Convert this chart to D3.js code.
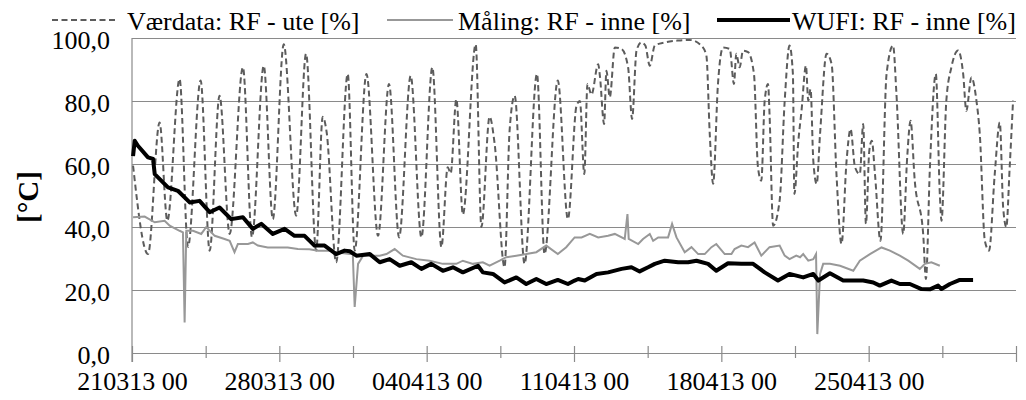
<!DOCTYPE html>
<html>
<head>
<meta charset="utf-8">
<script src="https://d3js.org/d3.v7.min.js"></script>
<style>
body { margin:0; background:#fff; }
svg text { font-family: "Liberation Serif", "Times New Roman", serif; fill:#000; }
</style>
</head>
<body>
<div class="container"></div>
<script>
////////////////////////////////////////////////////////////////
// DATA (dager etter 21.03.2013 00:00, RF i %)
////////////////////////////////////////////////////////////////
var startDato = new Date(2013, 2, 21, 0, 0);
var sluttDato = new Date(2013, 4, 2, 0, 0);

var serieNavn = ["Værdata: RF - ute [%]", "Måling: RF - inne [%]", "WUFI: RF - inne [%]"];
var yTicks = [0, 20, 40, 60, 80, 100];
var xTickSteg = 3.5; // dager mellom tick

var vaerDag = [0.05,0.76,1.31,1.68,2.26,2.66,3.26,3.69,4.16,4.64,5.27,5.70,6.26,6.69,7.21,7.80,8.27,8.75,9.06,9.25,9.70,
  10.25,10.58,11.14,11.69,12.21,12.69,13.24,13.75,14.27,14.70,15.00,15.14,15.41,15.72,16.33,16.60,16.99,17.23,17.70,17.94,
  18.18,18.65,19.24,19.60,20.23,20.71,21.12,21.28,21.49,21.64,21.83,22.15,22.23,22.43,22.54,22.70,22.94,23.26,23.57,23.76,
  23.97,24.20,24.39,24.60,24.84,25.31,25.95,26.48,27.05,27.29,27.45,27.61,27.84,28.08,28.40,28.60,28.71,28.87,29.03,29.27,
  29.55,29.74,29.90,30.06,30.22,30.29,30.46,30.77,31.01,31.24,31.40,31.47,31.66,31.81,32.02,32.13,32.24,32.37,32.53,32.69,
  33.00,33.24,33.47,33.71,33.95,34.14,34.35,34.58,34.74,34.87,35.03,35.15,35.30,35.56,35.85,36.16,36.32,36.64,36.83,36.99,
  37.19,37.59,37.72,37.91,38.19,38.38,38.46,38.69,38.93,39.25,39.49,39.64,39.88,40.12,40.28,40.52,40.72,40.99,41.23,41.39,
  41.54,41.70,41.86];
var vaerRF = [59.5,31.4,73.2,42,87,33.7,86.5,32.5,81.7,37.8,90.7,36.8,91.2,42.5,98,43.6,95,32.5,75,70,28.8,
  88.6,32.5,88.6,37.2,85.4,36.7,88,36.7,90.7,33.6,59,57,80.6,44,98,40,75,66.4,27.2,70.6,
  81.7,28.3,88.6,31.4,86.5,42.5,78.5,80,56.8,85.4,82,91.7,88,72.7,89.6,81.2,97,96.5,90.7,74.3,
  96,98.6,97.6,91.2,97.6,98.6,99.2,99.4,97.6,94.4,69.5,53.7,85.4,97,96.5,85.4,95,90.7,96,95.5,
  88.6,59,54.7,80.1,85.4,75.9,40.4,48.4,80,97.6,88.6,50.5,67.4,76.9,91.2,80.1,83.8,61,53.7,69.5,
  95,91.7,56.8,34.6,61,71.1,59,56.8,72.7,41,64.2,67.4,56.8,35.6,88.6,97.6,82.2,37.8,62.1,73.7,
  54.7,37.8,23.5,59,88.6,50.5,42,80.1,90.7,96,88.6,76.9,87.5,80.1,69.5,35.6,32.5,56.8,73.2,46.2,
  40,59,80.1];

var maalDag = [0.05,0.60,1.08,1.55,1.79,2.26,2.42,2.50,2.58,2.90,3.29,3.53,3.93,4.40,4.64,4.87,5.03,5.51,5.74,5.98,6.45,
  6.93,7.40,7.88,8.43,8.83,9.30,9.87,10.35,10.49,10.58,10.74,10.98,11.45,11.77,12.09,12.48,12.87,13.51,14.14,14.77,
  15.41,15.72,16.20,16.67,16.99,17.47,17.78,18.26,18.73,19.21,19.68,20.23,20.63,21.03,21.36,21.75,22.15,22.62,22.94,23.41,
  23.54,23.60,24.05,24.28,24.60,24.76,25.00,25.47,25.66,25.87,26.26,26.58,26.90,27.21,27.53,27.76,28.16,28.48,28.63,28.95,
  29.27,29.58,29.90,30.29,30.77,31.01,31.24,31.56,31.74,31.89,32.13,32.37,32.50,32.56,32.69,32.84,33.16,33.64,34.27,34.58,
  35.06,35.61,36.01,36.48,36.88,37.43,37.67,37.98,38.38];
var maalRF = [43.1,43.3,41.5,42,40.4,38.8,38.3,9.7,38.8,38.8,37.8,40,37.2,36.2,35.6,32,34.6,34.6,35.1,34.1,33.5,
  33.5,33.5,33,32.9,32.5,32.5,31.8,31.4,31.5,14.6,28.3,30.9,30.9,30.9,31.4,33,30.9,29.8,29.3,28.3,
  28.3,29.3,28.3,28.8,27.7,29.3,30.4,30.9,31.4,32,34.1,31.4,33.6,36.7,36.7,37.8,36.7,37.2,37.8,36.2,
  44.1,36.2,34.6,36.2,37.8,35.6,36.7,36.7,41,36.7,32,33.6,31.4,31.4,33.6,34.6,31.4,31.4,33,34.1,
  33.6,35.1,30.9,33.6,34.1,30.9,29.8,30.9,30.4,31.4,29.3,29.8,31.4,6,25.1,28.3,28.3,27.7,26.1,29.3,
  31.4,33.5,32.5,30.9,29.3,26.7,28.3,28.8,27.7];

var wufiDag = [0.05,0.13,0.28,0.76,1.00,1.08,1.71,2.18,2.74,3.21,3.69,4.16,4.71,5.27,5.74,6.14,6.69,7.25,7.72,8.20,8.67,
  9.15,9.70,10.10,10.35,10.66,11.30,11.77,12.24,12.72,13.27,13.75,14.22,14.77,15.25,15.72,16.44,16.67,17.15,17.70,18.26,
  18.73,19.21,19.68,20.23,20.71,21.03,21.20,21.51,22.07,22.62,23.26,23.73,24.12,24.52,24.84,25.31,25.95,26.42,26.82,27.37,
  27.76,28.32,28.95,29.51,30.06,30.69,31.24,31.89,32.37,32.61,33.16,33.79,34.27,34.74,35.22,35.53,36.08,36.48,36.96,37.51,
  37.91,38.30,38.46,38.86,39.33,39.96];
var wufiRF = [62.5,67.4,65.8,62.1,61.6,56.8,52.6,51.5,47.8,48.3,44.7,46.2,42.5,43.1,39.4,41,37.8,39.4,37.2,37.2,34.1,
  34.1,31.4,32.5,32.3,30.9,31.4,28.8,29.8,27.7,28.8,26.7,28.3,26.1,27.2,25.6,27.7,25.6,25.1,22.4,24,
  21.9,23.5,21.9,23.2,21.9,23,23.5,23,25.1,25.6,26.7,27.2,25.9,27.2,28.3,29.3,28.8,28.8,29.3,28.3,
  26.1,28.5,28.3,28.3,25.6,23,25.1,24,25.1,23,25.3,23,23,23,22.4,21.4,23,21.9,21.9,20.3,
  20.2,21.4,20.3,21.9,23.2,23.2];

////////////////////////////////////////////////////////////////
// STAGE
////////////////////////////////////////////////////////////////
var W = 1026, H = 400;
var plot = {left:132, right:1016, top:38, bottom:353};

var svg = d3.select(".container")
  .append("svg")
  .attr("width", W)
  .attr("height", H);

var x = d3.scaleTime().domain([startDato, sluttDato]).range([plot.left, plot.right]);
var y = d3.scaleLinear().domain([0, 100]).range([plot.bottom, plot.top]);

function tilDato(d) {
  return new Date(startDato.getTime() + d * 86400000);
}

function lagSerie(dager, verdier) {
  return dager.map(function(d, i) { return {t: tilDato(d), v: verdier[i]}; });
}

////////////////////////////////////////////////////////////////
// GRID + AXES
////////////////////////////////////////////////////////////////
var yAxis = d3.axisLeft(y)
  .tickValues(yTicks)
  .tickSize(-(plot.right - plot.left))
  .tickPadding(22)
  .tickFormat(function(d) { return d3.format(".1f")(d).replace(".", ","); });

var gy = svg.append("g")
  .attr("transform", "translate(" + plot.left + ",0)")
  .call(yAxis);
gy.select(".domain").remove();
gy.selectAll(".tick line").attr("stroke", "#8a8a8a").attr("stroke-width", 1.2);
gy.selectAll(".tick text")
  .attr("font-size", 26)
  .attr("dy", "0.4em");

// venstre akse
svg.append("line")
  .attr("x1", plot.left).attr("x2", plot.left)
  .attr("y1", plot.top).attr("y2", plot.bottom + 9)
  .attr("stroke", "#8a8a8a").attr("stroke-width", 1.2);

var xTicks = d3.range(0, 42.01, xTickSteg).map(tilDato);
var fmt = d3.timeFormat("%d%m%y %H");

var xAxis = d3.axisBottom(x)
  .tickValues(xTicks)
  .tickSizeInner(0)
  .tickSizeOuter(0)
  .tickPadding(0)
  .tickFormat(function(d, i) { return (i % 2 == 0 && i < 12) ? fmt(d) : ""; });

var gx = svg.append("g")
  .attr("transform", "translate(0," + plot.bottom + ")")
  .call(xAxis);
gx.select(".domain").attr("stroke", "#8a8a8a").attr("stroke-width", 1.2);
gx.selectAll(".tick line")
  .attr("stroke", "#8a8a8a").attr("stroke-width", 1.2)
  .attr("y1", -7)
  .attr("y2", function(d, i) { return i % 2 == 0 ? 9 : 5; });
gx.selectAll(".tick text")
  .attr("font-size", 26)
  .attr("y", 37)
  .attr("dy", 0);

svg.selectAll(".tick text").attr("fill", "#000").attr("font-family", "Liberation Serif, serif");

// y-akse tittel
svg.append("text")
  .attr("transform", "translate(38,197) rotate(-90)")
  .attr("text-anchor", "middle")
  .attr("font-size", 29)
  .attr("font-weight", "bold")
  .text("[°C]");

////////////////////////////////////////////////////////////////
// LINES
////////////////////////////////////////////////////////////////
var linje = d3.line()
  .x(function(d) { return x(d.t); })
  .y(function(d) { return y(d.v); });

var glattLinje = d3.line()
  .curve(d3.curveMonotoneX)
  .x(function(d) { return x(d.t); })
  .y(function(d) { return y(d.v); });

svg.append("path")
  .datum(lagSerie(vaerDag, vaerRF))
  .attr("d", glattLinje)
  .attr("fill", "none")
  .attr("stroke", "#5c5c5c")
  .attr("stroke-width", 2)
  .attr("stroke-dasharray", "6,3.5");

svg.append("path")
  .datum(lagSerie(maalDag, maalRF))
  .attr("d", linje)
  .attr("fill", "none")
  .attr("stroke", "#989898")
  .attr("stroke-width", 2);

svg.append("path")
  .datum(lagSerie(wufiDag, wufiRF))
  .attr("d", linje)
  .attr("fill", "none")
  .attr("stroke", "#000")
  .attr("stroke-width", 4)
  .attr("stroke-linejoin", "round");

////////////////////////////////////////////////////////////////
// LEGEND
////////////////////////////////////////////////////////////////
var legend = [
  {x1:52, x2:118, tx:127, stroke:"#5c5c5c", w:2, dash:"6,3.5"},
  {x1:387, x2:453, tx:458, stroke:"#989898", w:2, dash:null},
  {x1:717, x2:790, tx:792, stroke:"#000", w:4, dash:null}
];

legend.forEach(function(l, i) {
  svg.append("line")
    .attr("x1", l.x1).attr("x2", l.x2)
    .attr("y1", 20).attr("y2", 20)
    .attr("stroke", l.stroke)
    .attr("stroke-width", l.w)
    .attr("stroke-dasharray", l.dash);
  svg.append("text")
    .attr("x", l.tx)
    .attr("y", 30)
    .attr("font-size", 26)
    .text(serieNavn[i]);
});
</script>
</body>
</html>
